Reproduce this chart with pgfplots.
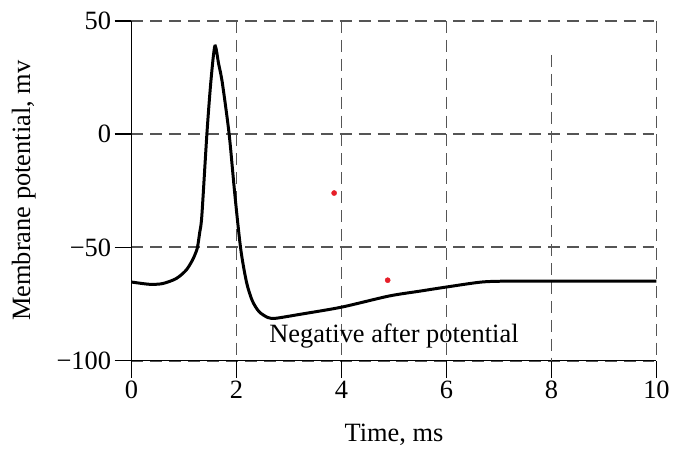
\documentclass[border=0pt]{standalone}
\usepackage{fontspec}
\setmainfont{Liberation Serif}
\usepackage{pgfplots}
\pgfplotsset{compat=1.18}

\definecolor{gridgray}{RGB}{85,85,85}
\definecolor{dotred}{RGB}{230,30,40}

\begin{document}
\begin{tikzpicture}
% fixed page: reference is 673 x 448
\path (-132pt,-86pt) rectangle (541pt,362pt);
\begin{axis}[
    at={(0pt,0pt)}, anchor=south west,
    scale only axis,
    width=527pt, height=341pt,
    xmin=0, xmax=10,
    ymin=-100, ymax=50,
    axis lines*=left,
    axis line style={black, line width=1.6pt},
    xtick={0,2,4,6,8,10},
    ytick={-100,-50,0,50},
    yticklabels={−100,−50,0,50},
    tick align=outside,
    major tick length=17pt,
    tick style={black, line width=1.6pt},
    ymajorgrids,
    grid style={gridgray, line width=1.8pt, dash pattern=on 12pt off 7pt},
    /pgf/number format/assume math mode=true,
    tick label style={font=\fontsize{26.5}{31}\selectfont},
    label style={font=\fontsize{26.5}{31}\selectfont},
    xlabel={Time, ms},
    ylabel={Membrane potential, mv},
    xlabel style={at={(axis description cs:0.5,-0.2375)}, anchor=base},
    ylabel style={at={(axis description cs:-0.205,0.5)}, anchor=center},
    clip=false,
]
% vertical grid lines (the one at 8 starts below the top)
\draw[gridgray, line width=1.8pt, dash pattern=on 12pt off 7pt]
    (axis cs:2,50) -- (axis cs:2,-100)
    (axis cs:4,50) -- (axis cs:4,-100)
    (axis cs:6,50) -- (axis cs:6,-100)
    (axis cs:8,35) -- (axis cs:8,-100)
    (axis cs:10,50) -- (axis cs:10,-100);

\addplot[black, line width=3pt, smooth, tension=0.45] coordinates {
    (0,-65.3) (0.34,-66.3) (0.59,-66) (0.85,-63.8) (1.04,-60.1)
    (1.16,-55.7) (1.23,-52) (1.26,-49.6) (1.30,-43.3) (1.34,-36)
    (1.436,0) (1.51,22.7) (1.588,38.9) (1.66,31) (1.73,22.7)
    (1.86,0) (1.97,-27) (2.08,-50.6) (2.19,-65.3) (2.3,-73.5)
    (2.43,-78.4) (2.6,-81) (2.75,-81.3) (3.2,-79.6) (4.0,-76.4)
    (4.9,-71.5) (5.5,-69.3) (6.0,-67.5) (6.67,-65.3) (7.2,-64.9)
    (8,-64.9) (10,-64.9)
};

\addplot[only marks, mark=*, mark size=2.6pt, dotred, draw=none] coordinates {
    (3.86,-26) (4.88,-64.5)
};

\node[font=\fontsize{26.5}{31}\selectfont] at (axis cs:5,-89) {Negative after potential};
\end{axis}
\end{tikzpicture}
\end{document}
